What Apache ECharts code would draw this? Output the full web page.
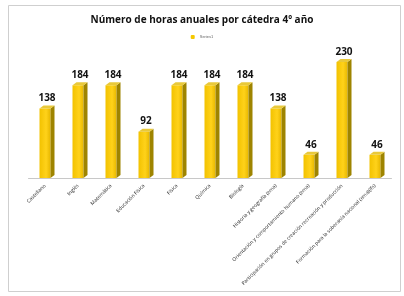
<!DOCTYPE html>
<html>
<head>
<meta charset="utf-8">
<script src="https://cdn.jsdelivr.net/npm/echarts@6/dist/echarts.min.js"></script>
<style>
  html, body { margin: 0; padding: 0; background: #fff; }
  #chart { width: 404px; height: 296px; }
</style>
</head>
<body>
<div id="chart"></div>
<script>
var categories = [
  'Castellano', 'Inglés', 'Matemática', 'Educación Física', 'Física',
  'Química', 'Biología', 'Historia y geografía (ema)',
  'Orientación y comportamiento humano (ema)',
  'Participación en grupos de creación recreación y producción',
  'Formación para la soberanía nacional (ema)(lfs)'
];
var horas = [138, 184, 184, 92, 184, 184, 184, 138, 46, 230, 46];

var chart = echarts.init(document.getElementById('chart'));

// barra 3D: cara frontal, lateral y superior
function renderBar(params, api) {
  var top = api.coord([api.value(0), api.value(1)]);
  var base = api.coord([api.value(0), 0]);
  var w = 11, d = 4, h = 3;
  var x0 = top[0] - w / 2, x1 = top[0] + w / 2;
  return {
    type: 'group',
    children: [
      { type: 'rect', shape: { x: x0, y: top[1], width: w, height: base[1] - top[1] },
        style: { fill: new echarts.graphic.LinearGradient(0, 0, 1, 0, [
          { offset: 0, color: '#F2C200' }, { offset: 0.6, color: '#FFD21A' }, { offset: 1, color: '#E8B800' }]) } },
      { type: 'polygon', shape: { points: [[x1, top[1]], [x1 + d, top[1] - h], [x1 + d, base[1] - h], [x1, base[1]]] },
        style: { fill: '#9E8400' } },
      { type: 'polygon', shape: { points: [[x0, top[1]], [x0 + d, top[1] - h], [x1 + d, top[1] - h], [x1, top[1]]] },
        style: { fill: '#E9C93A' } },
      { type: 'text', x: top[0] + 2, y: top[1] - h - 2,
        style: { text: String(api.value(1)), fill: '#111', font: 'bold 10px "Open Sans", sans-serif',
          align: 'center', verticalAlign: 'bottom' } }
    ]
  };
}

chart.setOption({
  animation: false,
  title: {
    text: 'Número de horas anuales por cátedra 4º año',
    left: 'center', top: 10,
    textStyle: { fontSize: 10, fontWeight: 'bold', color: '#111', fontFamily: 'Open Sans' }
  },
  legend: {
    data: ['Series1'], top: 30, left: 'center',
    itemWidth: 4, itemHeight: 4,
    textStyle: { fontSize: 4, color: '#666' }
  },
  graphic: [{
    type: 'rect', shape: { x: 8.5, y: 5.5, width: 392, height: 286 },
    style: { fill: null, stroke: '#cfcfcf', lineWidth: 1 }
  }],
  grid: { left: 28.5, right: 12.5, top: 52, bottom: 118 },
  xAxis: {
    type: 'category',
    data: categories,
    axisLine: { lineStyle: { color: '#c8c8c8' } },
    axisTick: { show: false },
    axisLabel: { interval: 0, rotate: 45, fontSize: 5, color: '#222', margin: 7, fontFamily: 'Open Sans' }
  },
  yAxis: {
    type: 'value', min: 0, max: 250, show: false,
    splitLine: { show: false }
  },
  series: [{
    name: 'Series1',
    type: 'custom',
    itemStyle: { color: '#F5C800' },
    renderItem: renderBar,
    encode: { x: 0, y: 1 },
    data: horas.map(function (v, i) { return [i, v]; })
  }]
});
</script>
</body>
</html>
